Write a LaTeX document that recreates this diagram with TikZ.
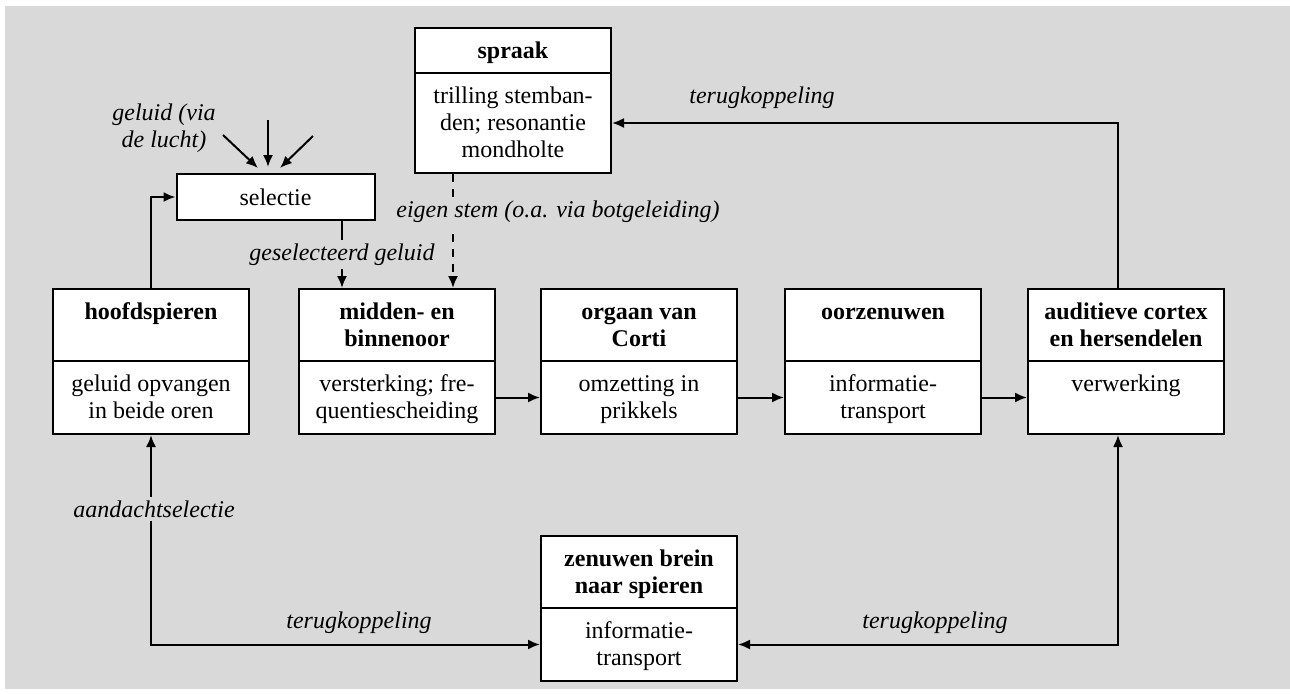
\documentclass[tikz,border=0pt]{standalone}
\usepackage{fontspec}
\setmainfont{Liberation Serif}
\usetikzlibrary{arrows.meta}
\definecolor{achtergrond}{RGB}{217,217,217}
\tikzset{
  vak/.style={draw, fill=white, inner sep=0pt, anchor=north west,
    execute at begin node={\begin{minipage}[c][#1][t]{98pt}\centering\rule{0pt}{15pt}},
    execute at end node={\end{minipage}}},
  kop/.style={vak=#1, font=\bfseries},
  bijschrift/.style={font=\itshape, fill=achtergrond, inner sep=2pt},
}
\begin{document}
\fontsize{12}{13.5}\selectfont
\begin{tikzpicture}[x=0.5pt,y=-0.5pt,line width=1pt,>={Latex[length=6pt,width=5pt]}]
\useasboundingbox (0,0) rectangle (1290,693);
\fill[achtergrond] (5,6) rectangle (1290,689);
% blokken
\node[kop=22.5pt] (spraak) at (414,27) {spraak};
\node[vak=50pt] (spraakb) at (414,72) {trilling stemban-\\den; resonantie\\mondholte};
\node[draw,fill=white,inner sep=0pt,minimum width=99pt,minimum height=23pt] (selectie) at (275.5,197) {selectie};
\node[kop=36pt] (hoofd) at (52,288) {hoofdspieren};
\node[vak=36.5pt] (hoofdb) at (52,360) {geluid opvangen\\in beide oren};
\node[kop=36pt] (midden) at (298,288) {midden- en\\binnenoor};
\node[vak=36.5pt] (middenb) at (298,360) {versterking; fre-\\quentiescheiding};
\node[kop=36pt] (corti) at (540,288) {orgaan van\\Corti};
\node[vak=36.5pt] (cortib) at (540,360) {omzetting in\\prikkels};
\node[kop=36pt] (oorzenuw) at (784,288) {oorzenuwen};
\node[vak=36.5pt] (oorzenuwb) at (784,360) {informatie-\\transport};
\node[kop=36pt] (cortex) at (1027,288) {auditieve cortex\\en hersendelen};
\node[vak=36.5pt] (cortexb) at (1027,360) {verwerking};
\node[kop=36pt] (zenuw) at (540,535) {zenuwen brein\\naar spieren};
\node[vak=36.5pt] (zenuwb) at (540,607) {informatie-\\transport};
% geluid van buiten
\coordinate (lucht1) at (223,135);
\coordinate (lucht2) at (268,120);
\coordinate (lucht3) at (313,136);
\node[font=\itshape,align=center,inner sep=0pt] (lucht) at (164,128) {geluid (via\\de lucht)};
\draw[->] (lucht1) -- (258,168);
\draw[->] (lucht2) -- (268,167);
\draw[->] (lucht3) -- (280,168);
% verbindingen
\coordinate (gs) at (342,0);
\coordinate (es) at (453,0);
\draw[->] (hoofd.north) |- (selectie.west);
\draw[->] (selectie.south -| gs) -- (midden.north -| gs)
  node[midway,bijschrift] (geselecteerd) {geselecteerd geluid};
\draw[->,dash pattern=on 4pt off 3.5pt] (spraakb.south -| es) -- (midden.north -| es);
\node[bijschrift] (eigen) at (558,212) {eigen stem (o.a. via botgeleiding)};
\draw[->] (middenb) -- (cortib);
\draw[->] (cortib) -- (oorzenuwb);
\draw[->] (oorzenuwb) -- (cortexb);
\draw[->] ([xshift=-4pt]cortex.north) |- (spraakb.east);
\node[font=\itshape] (terug1) at (762,98) {terugkoppeling};
\draw[<->] (hoofdb.south) |- (zenuwb.west);
\node[bijschrift] (aandacht) at (154,509) {aandachtselectie};
\node[font=\itshape] (terug2) at (359,623) {terugkoppeling};
\draw[<->] ([xshift=-4pt]cortexb.south) |- (zenuwb.east);
\node[font=\itshape] (terug3) at (935,623) {terugkoppeling};
\end{tikzpicture}
\end{document}
